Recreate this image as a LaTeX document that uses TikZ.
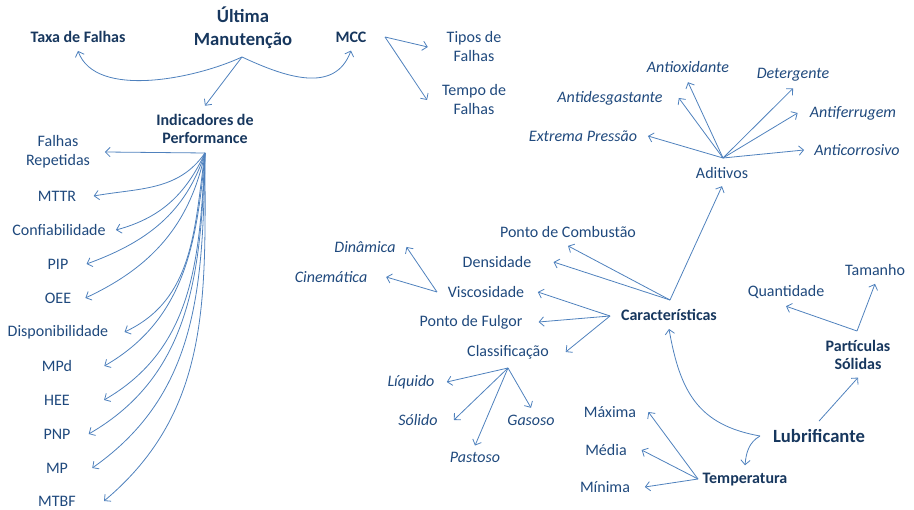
\documentclass[tikz,border=0pt]{standalone}
\usepackage{fontspec}
\setmainfont{Carlito}
\usetikzlibrary{arrows.meta}
\definecolor{txtblue}{HTML}{1F497D}
\definecolor{topicblue}{HTML}{17375E}
\definecolor{linkblue}{HTML}{4F81BD}

\begin{document}
\begin{tikzpicture}[x=0.75pt, y=0.75pt,
    item/.style={font=\fontsize{12}{14.25}\selectfont, text=txtblue, align=center, inner sep=2pt},
    kind/.style={item, font=\fontsize{12}{14.25}\selectfont\itshape},
    topic/.style={item, font=\fontsize{12}{14}\selectfont\bfseries, text=topicblue},
    main/.style={topic, font=\fontsize{14}{17}\selectfont\bfseries},
    arrow/.style={-{Straight Barb[length=3.5pt,width=7pt]}, linkblue, line width=0.6pt}
  ]
  \useasboundingbox (0,0) rectangle (914,510);

  % top
  \node[main]  (ultima) at (243,482) {Última\\Manutenção};
  \node[topic] (taxa)   at (78,473)  {Taxa de Falhas};
  \node[topic] (mcc)    at (351,473) {MCC};
  \node[item]  (tipos)  at (474,463) {Tipos de\\Falhas};
  \node[item]  (tempo)  at (474,410) {Tempo de\\Falhas};
  \node[topic] (indic)  at (205,381) {Indicadores de\\Performance};

  \coordinate (umHub)  at (242,453);
  \coordinate (mccHub) at (385,473);
  \coordinate (fanHub) at (205,357);

  \draw[arrow] (umHub) to[out=205, in=-70, looseness=0.8] ([yshift=-4pt]taxa.south);
  \draw[arrow] (umHub) to[out=-25, in=-110, looseness=1.1] ([yshift=-4pt]mcc.south);
  \draw[arrow] (umHub) -- ([yshift=4pt]indic.north);
  \draw[arrow] (mccHub) -- ([xshift=-12pt]tipos.west);
  \draw[arrow] (mccHub) -- ([xshift=-9pt]tempo.west);

  % indicadores
  \node[item] (falhas) at (58,358) {Falhas\\Repetidas};
  \node[item] (mttr)   at (57,314) {MTTR};
  \node[item] (conf)   at (59,280) {Confiabilidade};
  \node[item] (pip)    at (58,246) {PIP};
  \node[item] (oee)    at (58,212) {OEE};
  \node[item] (disp)   at (58,178) {Disponibilidade};
  \node[item] (mpd)    at (57,144) {MPd};
  \node[item] (hee)    at (57,110) {HEE};
  \node[item] (pnp)    at (57,76)  {PNP};
  \node[item] (mp)     at (57,42)  {MP};
  \node[item] (mtbf)   at (57,9)   {MTBF};

  \draw[arrow] (fanHub) -- ([xshift=9pt]falhas.east);
  \draw[arrow] (fanHub) to[out=-125, in=10] ([xshift=11pt]mttr.east);
  \draw[arrow] (fanHub) to[out=-115, in=15] ([xshift=5.5pt]conf.east);
  \draw[arrow] (fanHub) to[out=-108, in=20] ([xshift=11.5pt]pip.east);
  \draw[arrow] (fanHub) to[out=-102, in=25] ([xshift=8.5pt]oee.east);
  \draw[arrow] (fanHub) to[out=-98, in=25]  ([xshift=10pt]disp.east);
  \draw[arrow] (fanHub) to[out=-95, in=30]  ([xshift=22pt]mpd.east);
  \draw[arrow] (fanHub) to[out=-93, in=30]  ([xshift=23.5pt]hee.east);
  \draw[arrow] (fanHub) to[out=-92, in=30]  ([xshift=11.5pt]pnp.east);
  \draw[arrow] (fanHub) to[out=-91, in=35]  ([xshift=16pt]mp.east);
  \draw[arrow] (fanHub) to[out=-90, in=40]  ([xshift=19pt]mtbf.east);

  % aditivos
  \node[item] (aditivos) at (722,337) {Aditivos};
  \node[kind] (extrema)  at (583,374) {Extrema Pressão};
  \node[kind] (antides)  at (610,412) {Antidesgastante};
  \node[kind] (antiox)   at (688,443) {Antioxidante};
  \node[kind] (deterg)   at (793,435) {Detergente};
  \node[kind] (antiferr) at (853,397) {Antiferrugem};
  \node[kind] (anticor)  at (857,360) {Anticorrosivo};

  \coordinate (adHub) at (723,352);
  \draw[arrow] (adHub) -- ([xshift=6pt]extrema.east);
  \draw[arrow] (adHub) -- ([xshift=10pt]antides.east);
  \draw[arrow] (adHub) -- ([yshift=-5pt]antiox.south);
  \draw[arrow] (adHub) -- ([yshift=-3pt]deterg.south);
  \draw[arrow] (adHub) -- ([xshift=-7pt]antiferr.west);
  \draw[arrow] (adHub) -- ([xshift=-5.5pt]anticor.west);

  % caracteristicas
  \node[topic] (caract) at (669,195) {Características};
  \node[item]  (pcomb)  at (568,278) {Ponto de Combustão};
  \node[item]  (dens)   at (497,248) {Densidade};
  \node[item]  (visc)   at (486,218) {Viscosidade};
  \node[item]  (fulg)   at (471,188) {Ponto de Fulgor};
  \node[item]  (class)  at (508,158) {Classificação};
  \node[kind]  (dinam)  at (365,263) {Dinâmica};
  \node[kind]  (cinem)  at (331,233) {Cinemática};
  \node[kind]  (liq)    at (411,128) {Líquido};
  \node[kind]  (sol)    at (418,90)  {Sólido};
  \node[kind]  (gas)    at (531,90)  {Gasoso};
  \node[kind]  (past)   at (475,53)  {Pastoso};

  \coordinate (carTop)   at (670,210);
  \coordinate (carLeft)  at (610,194);
  \coordinate (viscHub)  at (437,218);
  \coordinate (classHub) at (508,142);

  \draw[arrow] (carTop) -- ([yshift=-3.5pt]aditivos.south);
  \draw[arrow] (carTop) -- ([yshift=-4pt]pcomb.south);
  \draw[arrow] (carTop) -- ([xshift=14.5pt]dens.east);
  \draw[arrow] (carLeft) -- ([xshift=8pt]visc.east);
  \draw[arrow] (carLeft) -- ([xshift=10pt]fulg.east);
  \draw[arrow] (carLeft) -- ([xshift=10.5pt]class.east);
  \draw[arrow] (viscHub) -- ([xshift=6pt]dinam.east);
  \draw[arrow] (viscHub) -- ([xshift=12pt]cinem.east);
  \draw[arrow] (classHub) -- ([xshift=7pt]liq.east);
  \draw[arrow] (classHub) -- ([xshift=10pt]sol.east);
  \draw[arrow] (classHub) -- ([yshift=3pt]gas.north);
  \draw[arrow] (classHub) -- ([yshift=2.5pt]past.north);

  % lubrificante
  \node[main]  (lubr)    at (819,74)  {Lubrificante};
  \node[topic] (partic)  at (858,155) {Partículas\\Sólidas};
  \node[item]  (tamanho) at (875,240) {Tamanho};
  \node[item]  (quant)   at (786,218) {Quantidade};
  \node[topic] (temp)    at (745,30)  {Temperatura};
  \node[item]  (maxima)  at (610,98)  {Máxima};
  \node[item]  (media)   at (606,60)  {Média};
  \node[item]  (minima)  at (605,23)  {Mínima};

  \coordinate (partHub) at (857,179);
  \coordinate (lubHub)  at (760,74);
  \coordinate (tempHub) at (698,31);

  \draw[arrow] (partHub) -- ([yshift=-4pt]tamanho.south);
  \draw[arrow] (partHub) -- ([yshift=-3.5pt]quant.south);
  \draw[arrow] ([yshift=4pt]lubr.north) -- ([yshift=-3.5pt]partic.south);
  \draw[arrow] (lubHub) to[out=170, in=-80, looseness=1.15] ([yshift=-4pt]caract.south);
  \draw[arrow] (lubHub) to[out=210, in=85] ([yshift=4pt]temp.north);
  \draw[arrow] (tempHub) -- ([xshift=7pt]maxima.east);
  \draw[arrow] (tempHub) -- ([xshift=9pt]media.east);
  \draw[arrow] (tempHub) -- ([xshift=9pt]minima.east);
\end{tikzpicture}
\end{document}
